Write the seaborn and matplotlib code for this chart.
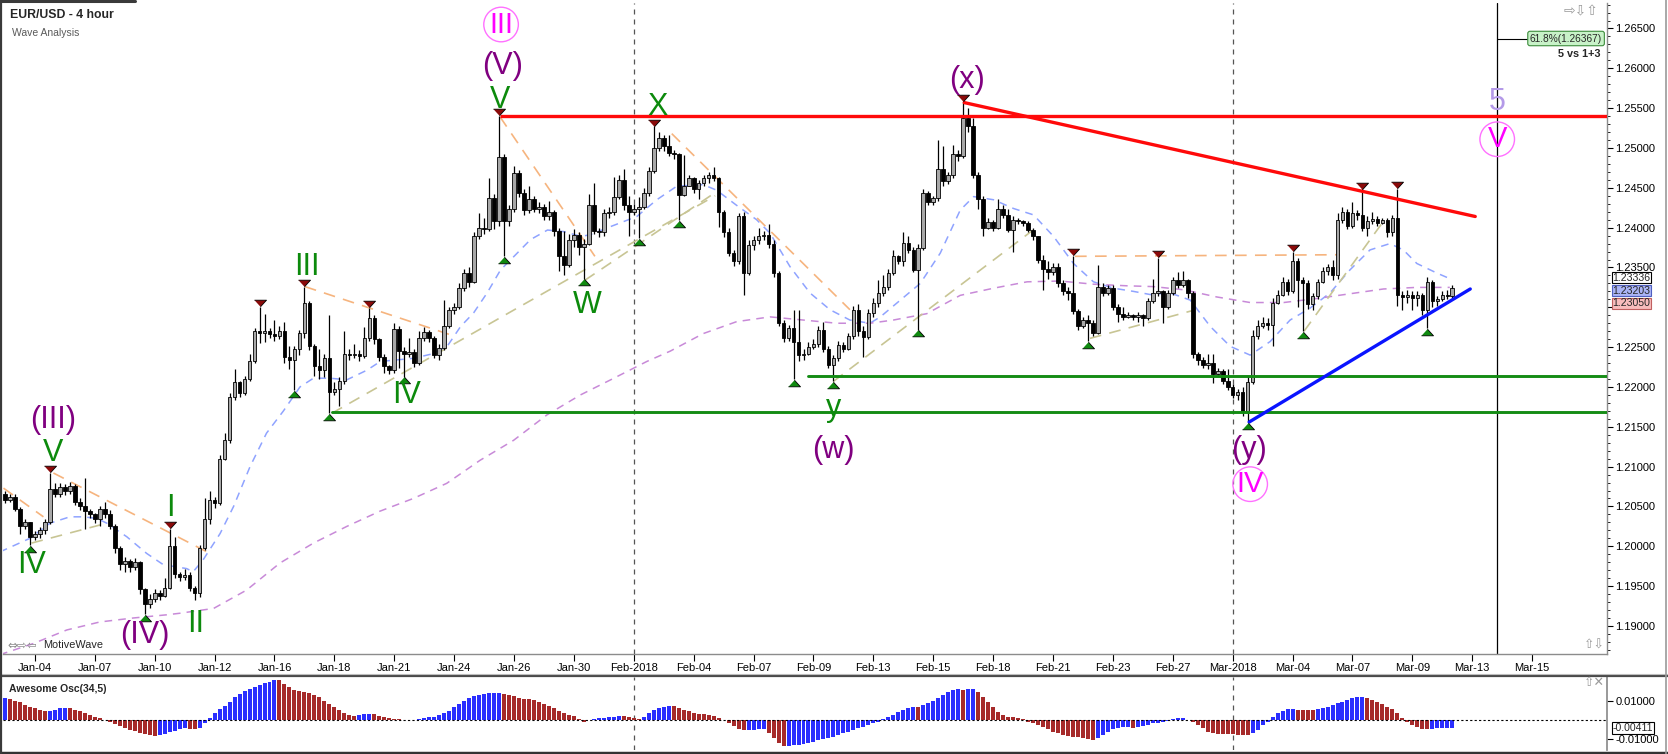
import numpy as np
import pandas as pd
import matplotlib
matplotlib.use("Agg")
import matplotlib.pyplot as plt
from matplotlib.ticker import MultipleLocator
import seaborn as sns

# ---------------- data ----------------
first_open = 1.2066
closes = [
    1.2058, 1.2062, 1.2047, 1.2026, 1.2030, 1.2012, 1.2015, 1.2020, 1.2030, 1.2072,
    1.2066, 1.2074, 1.2070, 1.2076, 1.2056, 1.2050, 1.2044, 1.2040, 1.2034, 1.2047,
    1.2040, 1.2026, 1.1998, 1.1978, 1.1982, 1.1974, 1.1980, 1.1946, 1.1928, 1.1934,
    1.1942, 1.1938, 1.1948, 1.2000, 1.1965, 1.1962, 1.1964, 1.1948, 1.1941, 1.1998,
    1.2034, 1.2058, 1.2054, 1.2110, 1.2133, 1.2188, 1.2206, 1.2192, 1.2210, 1.2232,
    1.2270, 1.2268, 1.2270, 1.2267, 1.2264, 1.2270, 1.2238, 1.2234, 1.2248, 1.2268,
    1.2305, 1.2251, 1.2226, 1.2221, 1.2236, 1.2194, 1.2198, 1.2208, 1.2241, 1.2240,
    1.2242, 1.2239, 1.2262, 1.2286, 1.2260, 1.2238, 1.2226, 1.2221, 1.2273, 1.2245,
    1.2242, 1.2244, 1.2230, 1.2261, 1.2269, 1.2262, 1.2240, 1.2249, 1.2277, 1.2296,
    1.2300, 1.2324, 1.2343, 1.2332, 1.2390, 1.2400, 1.2398, 1.2437, 1.2408, 1.2489,
    1.2408, 1.2424, 1.2468, 1.2443, 1.2422, 1.2436, 1.2424, 1.2426, 1.2414, 1.2420,
    1.2396, 1.2364, 1.2353, 1.2385, 1.2391, 1.2376, 1.2380, 1.2428, 1.2396, 1.2394,
    1.2418, 1.2420, 1.2439, 1.2460, 1.2428, 1.2420, 1.2424, 1.2426, 1.2444, 1.2471,
    1.2500, 1.2512, 1.2502, 1.2494, 1.2492, 1.2441, 1.2452, 1.2462, 1.2448, 1.2456,
    1.2462, 1.2466, 1.2462, 1.2420, 1.2395, 1.2368, 1.2358, 1.2415, 1.2343, 1.2378,
    1.2384, 1.2390, 1.2391, 1.2380, 1.2343, 1.2280, 1.2262, 1.2274, 1.2257, 1.2240,
    1.2242, 1.2250, 1.2254, 1.2272, 1.2248, 1.2228, 1.2236, 1.2253, 1.2248, 1.2264,
    1.2296, 1.2270, 1.2263, 1.2293, 1.2306, 1.2318, 1.2326, 1.2343, 1.2364, 1.2358,
    1.2381, 1.2372, 1.2347, 1.2374, 1.2444, 1.2432, 1.2437, 1.2474, 1.2458, 1.2466,
    1.2493, 1.2490, 1.2538, 1.2528, 1.2466, 1.2436, 1.2400, 1.2407, 1.2400, 1.2424,
    1.2416, 1.2397, 1.2410, 1.2408, 1.2406, 1.2397, 1.2389, 1.2360, 1.2348, 1.2344,
    1.2351, 1.2330, 1.2320, 1.2318, 1.2295, 1.2276, 1.2284, 1.2280, 1.2268, 1.2326,
    1.2318, 1.2324, 1.2300, 1.2292, 1.2288, 1.2290, 1.2288, 1.2290, 1.2286, 1.2308,
    1.2318, 1.2320, 1.2301, 1.2318, 1.2334, 1.2328, 1.2334, 1.2318, 1.2241, 1.2234,
    1.2228, 1.2230, 1.2216, 1.2220, 1.2208, 1.2200, 1.2190, 1.2194, 1.2168, 1.2206,
    1.2264, 1.2276, 1.2280, 1.2278, 1.2306, 1.2316, 1.2332, 1.2320, 1.2358, 1.2334,
    1.2330, 1.2304, 1.2314, 1.2332, 1.2345, 1.2350, 1.2340, 1.2410, 1.2420, 1.2402,
    1.2418, 1.2416, 1.2400, 1.2408, 1.2411, 1.2406, 1.2409, 1.2394, 1.2412, 1.2315,
    1.2313, 1.2316, 1.2312, 1.2316, 1.2296, 1.2332, 1.2308, 1.2310, 1.2316, 1.2314,
    1.2324]
highs = [
    1.2070, 1.2066, 1.2066, 1.2049, 1.2034, 1.2031, 1.2019, 1.2024, 1.2034, 1.2092,
    1.2080, 1.2079, 1.2078, 1.2081, 1.2078, 1.2060, 1.2086, 1.2047, 1.2042, 1.2051,
    1.2056, 1.2045, 1.2028, 1.2000, 1.1986, 1.1984, 1.1985, 1.1982, 1.1948, 1.1940,
    1.1946, 1.1945, 1.1960, 1.2022, 1.2012, 1.1968, 1.1972, 1.1968, 1.1950, 1.2002,
    1.2060, 1.2070, 1.2062, 1.2114, 1.2142, 1.2192, 1.2222, 1.2208, 1.2214, 1.2242,
    1.2274, 1.2301, 1.2292, 1.2274, 1.2284, 1.2276, 1.2282, 1.2251, 1.2252, 1.2272,
    1.2326, 1.2308, 1.2254, 1.2248, 1.2242, 1.2290, 1.2206, 1.2212, 1.2270, 1.2248,
    1.2254, 1.2246, 1.2275, 1.2299, 1.2290, 1.2262, 1.2242, 1.2228, 1.2280, 1.2276,
    1.2250, 1.2262, 1.2248, 1.2270, 1.2275, 1.2272, 1.2264, 1.2254, 1.2309, 1.2300,
    1.2306, 1.2330, 1.2348, 1.2350, 1.2395, 1.2418, 1.2412, 1.2462, 1.2442, 1.2540,
    1.2492, 1.2428, 1.2477, 1.2472, 1.2448, 1.2452, 1.2440, 1.2432, 1.2430, 1.2434,
    1.2422, 1.2400, 1.2396, 1.2392, 1.2398, 1.2394, 1.2386, 1.2442, 1.2456, 1.2400,
    1.2424, 1.2426, 1.2464, 1.2466, 1.2474, 1.2440, 1.2430, 1.2439, 1.2450, 1.2476,
    1.2527, 1.2520, 1.2516, 1.2516, 1.2498, 1.2494, 1.2491, 1.2466, 1.2464, 1.2460,
    1.2466, 1.2470, 1.2476, 1.2464, 1.2422, 1.2400, 1.2372, 1.2418, 1.2420, 1.2385,
    1.2390, 1.2400, 1.2396, 1.2404, 1.2384, 1.2346, 1.2284, 1.2278, 1.2297, 1.2297,
    1.2248, 1.2256, 1.2260, 1.2276, 1.2282, 1.2252, 1.2240, 1.2258, 1.2256, 1.2268,
    1.2302, 1.2304, 1.2276, 1.2298, 1.2312, 1.2334, 1.2340, 1.2348, 1.2372, 1.2366,
    1.2394, 1.2390, 1.2376, 1.2380, 1.2448, 1.2446, 1.2440, 1.2510, 1.2502, 1.2470,
    1.2504, 1.2498, 1.2558, 1.2550, 1.2538, 1.2470, 1.2440, 1.2412, 1.2410, 1.2436,
    1.2428, 1.2424, 1.2414, 1.2412, 1.2410, 1.2408, 1.2400, 1.2390, 1.2366, 1.2358,
    1.2356, 1.2356, 1.2334, 1.2326, 1.2365, 1.2298, 1.2288, 1.2290, 1.2284, 1.2353,
    1.2330, 1.2328, 1.2328, 1.2304, 1.2300, 1.2294, 1.2292, 1.2294, 1.2292, 1.2312,
    1.2336, 1.2362, 1.2322, 1.2322, 1.2338, 1.2344, 1.2346, 1.2336, 1.2320, 1.2244,
    1.2238, 1.2242, 1.2242, 1.2224, 1.2222, 1.2222, 1.2204, 1.2198, 1.2200, 1.2214,
    1.2272, 1.2284, 1.2288, 1.2286, 1.2312, 1.2322, 1.2338, 1.2336, 1.2370, 1.2362,
    1.2338, 1.2334, 1.2318, 1.2336, 1.2350, 1.2354, 1.2360, 1.2418, 1.2426, 1.2424,
    1.2432, 1.2422, 1.2448, 1.2414, 1.2420, 1.2414, 1.2412, 1.2412, 1.2416, 1.2449,
    1.2320, 1.2322, 1.2320, 1.2320, 1.2318, 1.2338, 1.2334, 1.2314, 1.2320, 1.2322,
    1.2328]
lows = [
    1.2054, 1.2055, 1.2044, 1.2016, 1.2022, 1.2002, 1.2008, 1.2010, 1.2016, 1.2028,
    1.2062, 1.2062, 1.2065, 1.2066, 1.2052, 1.2046, 1.2022, 1.2036, 1.2029, 1.2026,
    1.2036, 1.2022, 1.1992, 1.1970, 1.1968, 1.1968, 1.1970, 1.1940, 1.1915, 1.1922,
    1.1930, 1.1933, 1.1936, 1.1946, 1.1960, 1.1956, 1.1958, 1.1944, 1.1933, 1.1936,
    1.1995, 1.2028, 1.2048, 1.2052, 1.2108, 1.2130, 1.2184, 1.2188, 1.2190, 1.2208,
    1.2230, 1.2255, 1.2256, 1.2262, 1.2258, 1.2260, 1.2230, 1.2222, 1.2196, 1.2240,
    1.2262, 1.2246, 1.2214, 1.2210, 1.2212, 1.2167, 1.2190, 1.2176, 1.2204, 1.2234,
    1.2236, 1.2232, 1.2236, 1.2258, 1.2254, 1.2232, 1.2218, 1.2216, 1.2218, 1.2224,
    1.2213, 1.2238, 1.2225, 1.2228, 1.2258, 1.2256, 1.2236, 1.2234, 1.2247, 1.2274,
    1.2292, 1.2298, 1.2320, 1.2326, 1.2330, 1.2386, 1.2392, 1.2396, 1.2398, 1.2402,
    1.2364, 1.2402, 1.2420, 1.2438, 1.2416, 1.2418, 1.2420, 1.2418, 1.2410, 1.2410,
    1.2390, 1.2346, 1.2340, 1.2350, 1.2376, 1.2366, 1.2336, 1.2378, 1.2392, 1.2388,
    1.2390, 1.2412, 1.2416, 1.2436, 1.2422, 1.2390, 1.2416, 1.2387, 1.2424, 1.2440,
    1.2468, 1.2496, 1.2496, 1.2490, 1.2486, 1.2409, 1.2440, 1.2452, 1.2444, 1.2436,
    1.2452, 1.2456, 1.2458, 1.2401, 1.2388, 1.2364, 1.2352, 1.2354, 1.2316, 1.2340,
    1.2372, 1.2380, 1.2384, 1.2374, 1.2338, 1.2276, 1.2256, 1.2258, 1.2210, 1.2232,
    1.2234, 1.2240, 1.2248, 1.2250, 1.2244, 1.2224, 1.2207, 1.2232, 1.2244, 1.2246,
    1.2260, 1.2264, 1.2238, 1.2260, 1.2288, 1.2300, 1.2314, 1.2322, 1.2340, 1.2354,
    1.2352, 1.2368, 1.2344, 1.2272, 1.2372, 1.2428, 1.2428, 1.2434, 1.2452, 1.2455,
    1.2462, 1.2484, 1.2488, 1.2520, 1.2462, 1.2424, 1.2390, 1.2398, 1.2396, 1.2398,
    1.2412, 1.2394, 1.2370, 1.2404, 1.2402, 1.2394, 1.2384, 1.2356, 1.2322, 1.2336,
    1.2340, 1.2326, 1.2316, 1.2309, 1.2292, 1.2272, 1.2274, 1.2258, 1.2264, 1.2266,
    1.2314, 1.2316, 1.2296, 1.2282, 1.2284, 1.2286, 1.2284, 1.2282, 1.2276, 1.2284,
    1.2306, 1.2314, 1.2280, 1.2298, 1.2316, 1.2324, 1.2326, 1.2312, 1.2236, 1.2228,
    1.2224, 1.2222, 1.2205, 1.2214, 1.2204, 1.2196, 1.2186, 1.2184, 1.2164, 1.2156,
    1.2204, 1.2260, 1.2274, 1.2272, 1.2252, 1.2304, 1.2314, 1.2316, 1.2318, 1.2300,
    1.2270, 1.2298, 1.2296, 1.2310, 1.2330, 1.2340, 1.2334, 1.2336, 1.2406, 1.2398,
    1.2400, 1.2410, 1.2396, 1.2390, 1.2404, 1.2402, 1.2404, 1.2388, 1.2390, 1.2302,
    1.2296, 1.2306, 1.2296, 1.2302, 1.2290, 1.2274, 1.2300, 1.2302, 1.2308, 1.2310,
    1.2312]
# Awesome oscillator, in thousandths
ao_milli = [
    11.2, 10.7, 10.0, 9.2, 8.0, 6.9, 6.0, 5.2, 4.5, 4.8,
    5.4, 6.0, 6.4, 6.0, 5.4, 4.6, 3.8, 2.8, 1.6, 0.8,
    0.0, -0.9, -2.0, -3.0, -4.0, -5.0, -5.8, -6.6, -7.2, -7.7,
    -8.3, -7.8, -7.0, -6.2, -5.5, -4.8, -4.2, -4.5, -4.8, -3.9,
    -1.5, 1.2, 3.5, 5.5, 7.5, 9.5, 11.8, 13.5, 15.0, 16.2,
    17.2, 18.1, 19.0, 19.8, 20.7, 20.5, 18.5, 16.9, 15.8, 15.0,
    14.5, 13.8, 13.0, 11.8, 10.0, 8.2, 6.5, 5.0, 3.8, 2.8,
    2.2, 2.5, 3.0, 3.2, 3.0, 2.2, 1.6, 0.9, 0.5, 0.3,
    0.2, 0.1, 0.0, 0.3, 0.8, 1.4, 1.8, 2.6, 3.6, 4.8,
    6.5, 8.2, 9.8, 11.2, 12.3, 13.0, 13.5, 13.8, 14.0, 14.1,
    13.6, 12.9, 12.2, 11.5, 11.0, 10.7, 10.4, 9.5, 8.4, 7.2,
    6.0, 4.9, 3.8, 2.8, 2.0, 0.6, -0.9, 0.0, 0.5, 0.9,
    1.2, 1.5, 1.8, 2.1, 1.9, 1.7, 1.2, 0.4, 1.4, 3.5,
    5.2, 6.0, 6.9, 7.3, 7.0, 6.4, 5.2, 4.5, 3.8, 3.3,
    2.9, 2.5, 2.0, 1.2, 0.0, -1.7, -3.1, -4.6, -5.2, -5.1,
    -5.0, -4.9, -4.8, -6.9, -9.5, -12.1, -13.6, -13.5, -13.2, -12.8,
    -12.3, -11.8, -11.2, -10.6, -10.0, -9.5, -8.6, -7.8, -6.9, -6.0,
    -5.0, -4.2, -3.4, -2.6, -1.7, -0.9, 0.3, 1.4, 2.8, 4.3,
    5.2, 6.0, 6.9, 6.6, 7.8, 8.6, 10.0, 11.6, 13.0, 14.5,
    15.5, 15.9, 15.8, 16.0, 16.1, 14.7, 12.1, 9.5, 6.9, 4.3,
    2.6, 1.7, 1.4, 0.9, 0.3, -0.9, -1.7, -2.6, -3.5, -4.8,
    -6.0, -6.9, -7.8, -8.3, -8.6, -9.0, -9.5, -10.0, -10.4, -9.5,
    -7.8, -6.0, -4.8, -4.3, -3.8, -3.5, -4.3, -3.5, -3.1, -2.6,
    -1.7, -1.4, -0.9, -0.3, 0.3, 0.9, 1.0, 0.0, -0.9, -2.6,
    -4.3, -6.0, -6.9, -7.3, -7.35, -7.4, -7.5, -7.6, -7.8, -7.9,
    -6.9, -5.2, -2.6, -0.9, 1.7, 3.5, 4.8, 5.5, 5.6, 5.3,
    5.2, 5.1, 5.0, 5.5, 6.0, 6.9, 7.8, 8.6, 9.5, 10.4,
    11.2, 11.7, 11.8, 11.4, 10.4, 9.5, 8.3, 6.9, 5.5, 3.5,
    0.9, -1.0, -2.6, -3.8, -4.6, -4.8, -4.6, -4.4, -4.3, -4.2,
    -4.1]

date_labels = ["Jan-04", "Jan-07", "Jan-10", "Jan-12", "Jan-16", "Jan-18", "Jan-21",
               "Jan-24", "Jan-26", "Jan-30", "Feb-2018", "Feb-04", "Feb-07", "Feb-09",
               "Feb-13", "Feb-15", "Feb-18", "Feb-21", "Feb-23", "Feb-27", "Mar-2018",
               "Mar-04", "Mar-07", "Mar-09", "Mar-13", "Mar-15"]
month_start_bars = [126, 246]
price_ticks = [1.190, 1.195, 1.200, 1.205, 1.210, 1.215, 1.220, 1.225, 1.230, 1.235,
               1.240, 1.245, 1.250, 1.255, 1.260, 1.265]
# the 1.23000 label sits under the price tags in the reference
price_tick_labels = ["1.19000", "1.19500", "1.20000", "1.20500", "1.21000", "1.21500",
                     "1.22000", "1.22500", "", "1.23500", "1.24000", "1.24500",
                     "1.25000", "1.25500", "1.26000", "1.26500"]

blue_ma_x = [-1, 5, 9, 13, 15.7, 18.4, 20.4, 24.4, 28.4, 31.7, 36.4, 37.7, 39.7, 43.1, 45.8,
             49.1, 52.4, 55.8, 59.1, 61.8, 65.1, 68.5, 72.5, 75.2, 78.5, 81.9, 85.9, 88.6,
             91.3, 93.9, 96.6, 99.3, 102, 105.3, 108.7, 112, 115.4, 117.2, 121.2, 126.6,
             130.6, 134.6, 139.9, 142.6, 146.6, 150.6, 153.3, 157.3, 161.3, 165.3, 169.3,
             173.3, 175.4, 179.4, 183.4, 187.4, 191.4, 194.1, 198.1, 202.1, 206.1, 210.1,
             214.1, 218.1, 222.1, 226.1, 229.5, 233.5, 237.5, 241.5, 245.5, 249.5, 253.5,
             257.5, 261.5, 265.5, 269.5, 273.5, 277.5, 280.2, 282.9, 286.9, 289.5]
blue_ma_y = [1.1993, 1.2010, 1.2029, 1.2037, 1.2037, 1.2035, 1.2029, 1.2012, 1.1991, 1.1977,
             1.1972, 1.1968, 1.1983, 1.2016, 1.2050, 1.2100, 1.2142, 1.2170, 1.2200, 1.2211,
             1.2211, 1.2209, 1.2221, 1.2232, 1.2234, 1.2236, 1.2242, 1.2251, 1.2276, 1.2293,
             1.2318, 1.2347, 1.2364, 1.2385, 1.2397, 1.2395, 1.2389, 1.2391, 1.2401, 1.2414,
             1.2435, 1.2452, 1.2454, 1.2447, 1.2428, 1.2410, 1.2393, 1.2351, 1.2318, 1.2297,
             1.2284, 1.2280, 1.2288, 1.2309, 1.2330, 1.2368, 1.2422, 1.2439, 1.2435, 1.2424,
             1.2416, 1.2389, 1.2355, 1.2332, 1.2324, 1.2320, 1.2316, 1.2318, 1.2309, 1.2276,
             1.2251, 1.2240, 1.2257, 1.2284, 1.2299, 1.2318, 1.2347, 1.2372, 1.2380, 1.2372,
             1.2355, 1.2343, 1.2336]
purple_ma_x = [-1, 5.7, 12.4, 19, 25.7, 32.4, 35.1, 41.8, 48.4, 55.1, 61.8, 68.5, 75.1,
               81.8, 88.5, 95.2, 101.9, 108.6, 115.3, 122, 128.6, 133.3, 139.9, 146.6,
               153.3, 160, 166.7, 173.3, 178, 184.7, 191.4, 198.1, 204.8, 211.4, 218.1,
               224.8, 230.1, 236.2, 242.8, 249.5, 256.2, 262.8, 269.5, 276.2, 282.9, 289.5]
purple_ma_y = [1.1864, 1.1878, 1.1895, 1.1905, 1.1910, 1.1914, 1.1916, 1.1922, 1.1945,
               1.1979, 1.2004, 1.2025, 1.2044, 1.2060, 1.2079, 1.2108, 1.2133, 1.2165,
               1.2190, 1.2211, 1.2232, 1.2245, 1.2267, 1.2282, 1.2288, 1.2284, 1.2280,
               1.2280, 1.2284, 1.2292, 1.2315, 1.2324, 1.2332, 1.2333, 1.2329, 1.2327,
               1.2326, 1.2322, 1.2313, 1.2306, 1.2306, 1.2311, 1.2317, 1.2323, 1.2325,
               1.2325]

swing_high_x = [9, 33, 51, 60, 73, 99, 130, 192, 214, 231, 258, 272, 279]
swing_high_y = [1.2092, 1.2022, 1.2301, 1.2326, 1.2299, 1.2540, 1.2527, 1.2558, 1.2365,
                1.2362, 1.2370, 1.2448, 1.2449]
swing_low_x = [5, 28, 58, 65, 80, 100, 116, 127, 135, 158, 166, 183, 217, 249, 260, 285]
swing_low_y = [1.2002, 1.1915, 1.2196, 1.2167, 1.2213, 1.2364, 1.2336, 1.2387, 1.2409,
               1.2210, 1.2207, 1.2272, 1.2258, 1.2156, 1.2270, 1.2274]

green_text = ["IV", "V", "I", "II", "III", "IV", "V", "W", "X", "y"]
green_x = [5.4, 9.6, 33.2, 38.1, 60.5, 80.5, 99.2, 116.7, 130.7, 166.0]
green_y = [1.1977, 1.2117, 1.2048, 1.1903, 1.2351, 1.2190, 1.2560, 1.2303, 1.2552, 1.2173]
purple_text = ["(III)", "(IV)", "(V)", "(x)", "(w)", "(y)"]
purple_x = [9.7, 28.1, 99.6, 192.7, 166.0, 249.3]
purple_y = [1.2159, 1.1889, 1.2603, 1.2585, 1.2121, 1.2121]
circled_text = ["III", "IV", "V"]
circled_x = [99.4, 249.5, 299.0]
circled_y = [1.2655, 1.2078, 1.2511]
target_text, target_x, target_y = "5", 299.0, 1.2558
target_level = 1.26367

red_flat = (99.2, 1.2540)
red_fall_x, red_fall_y = [192.2, 294.6], [1.2557, 1.2414]
green_upper = (161.0, 1.2214)
green_lower = (65.5, 1.2168)
blue_rise_x, blue_rise_y = [249.3, 293.6], [1.2156, 1.2323]
orange_segments = [((-0.3, 1.2073), (7.7, 1.2037)), ((9.7, 1.2092), (41.1, 1.1991)),
                   ((60.1, 1.2326), (89.5, 1.2265)), ((99.2, 1.2539), (118.2, 1.2364)),
                   ((133.6, 1.2518), (169.3, 1.2297)), ((214.4, 1.2364), (267.5, 1.2366))]
khaki_segments = [((5.3, 1.2004), (20.4, 1.2029)), ((65.5, 1.2167), (142.3, 1.2440)),
                  ((116.2, 1.2334), (142.3, 1.2444)), ((166.0, 1.2207), (206.0, 1.2397)),
                  ((217.4, 1.2261), (238.0, 1.2296)), ((260.3, 1.2270), (276.2, 1.2408))]
marker_bar = 299.0
# axis value tags: shown value, colours (stacked so they do not collide)
price_tags = ["1.23336", "1.23203", "1.23050"]
price_tag_fill = ["white", "#aab4f6", "#f7bcbc"]
price_tag_edge = ["black", "#4f5fc0", "#c06060"]
price_tag_at = [1.23374, 1.23211, 1.23048]
ao_last = -0.00411

# ---------------- style ----------------
sns.set_theme(style="white")
plt.rcParams["font.family"] = ["Liberation Sans", "DejaVu Sans"]

W, H = 1668, 754
fig = plt.figure(figsize=(W / 100, H / 100), dpi=100)
fig.patch.set_facecolor("white")


def fx(p):
    return p / W


def fy(p):
    return 1 - p / H


LEFT, RIGHT = 3, 1607
ax = fig.add_axes([fx(LEFT), fy(654), fx(RIGHT) - fx(LEFT), fy(3) - fy(654)])
ax2 = fig.add_axes([fx(LEFT), fy(750), fx(RIGHT) - fx(LEFT), fy(677) - fy(750)])
XMIN, XMAX = -0.4, 321.0
for a in (ax, ax2):
    a.set_facecolor("white")

# ---------------- candles ----------------
c = np.array(closes)
n = len(c)
idx = np.arange(n)
o = np.concatenate([[first_open], c[:-1]])
hi = np.maximum(np.array(highs[:n]), np.maximum(o, c))
lo = np.minimum(np.array(lows[:n]), np.minimum(o, c))
up = c >= o
ax.vlines(idx, lo, hi, color="black", lw=0.9, zorder=2)
bot = np.minimum(o, c)
hgt = np.maximum(np.abs(c - o), 0.00004)
ax.bar(idx[up], hgt[up], bottom=bot[up], width=0.72, color="#a8a8a8",
       edgecolor="black", linewidth=0.6, zorder=3)
ax.bar(idx[~up], hgt[~up], bottom=bot[~up], width=0.72, color="black",
       edgecolor="black", linewidth=0.6, zorder=3)

# moving averages
sns.lineplot(x=blue_ma_x, y=blue_ma_y, ax=ax, color="#8fa3ff", lw=1.1,
             linestyle=(0, (5, 4)), zorder=1.5)
sns.lineplot(x=purple_ma_x, y=purple_ma_y, ax=ax, color="#c88ad8", lw=1.1,
             linestyle=(0, (5, 4)), zorder=1.5)

# wave guide lines
for (x0, y0), (x1, y1) in orange_segments:
    ax.plot([x0, x1], [y0, y1], color="#f6b47e", lw=1.2, ls=(0, (7, 5)), zorder=1.8)
for (x0, y0), (x1, y1) in khaki_segments:
    ax.plot([x0, x1], [y0, y1], color="#c8c594", lw=1.2, ls=(0, (7, 5)), zorder=1.8)

# trend lines
ax.plot([red_flat[0], XMAX], [red_flat[1]] * 2, color="#ff0a0a", lw=2.4, zorder=4,
        solid_capstyle="butt")
ax.plot(red_fall_x, red_fall_y, color="#ff0a0a", lw=2.4, zorder=4)
ax.plot([green_upper[0], XMAX], [green_upper[1]] * 2, color="#148c14", lw=2.1, zorder=4)
ax.plot([green_lower[0], XMAX], [green_lower[1]] * 2, color="#148c14", lw=2.1, zorder=4)
ax.plot(blue_rise_x, blue_rise_y, color="#0a14ff", lw=2.4, zorder=4)

# month separators and time marker
for a in (ax, ax2):
    for m in month_start_bars:
        a.axvline(m, color="#555555", lw=0.9, ls=(0, (4, 4)), zorder=1)
ax.axvline(marker_bar, color="black", lw=0.9, zorder=2)
ax.plot([marker_bar, marker_bar + 6.3], [target_level] * 2, color="black", lw=0.8, zorder=2)

# swing markers
off = 0.00048
down_tri = [(-1, 0.55), (1, 0.55), (0, -0.55)]
up_tri = [(-1, -0.55), (1, -0.55), (0, 0.55)]
ax.scatter(swing_high_x, np.array(swing_high_y) + off, marker=down_tri, s=75,
           color="#8a0a0a", edgecolors="black", linewidths=0.6, zorder=5)
ax.scatter(swing_low_x, np.array(swing_low_y) - off, marker=up_tri, s=75,
           color="#108a10", edgecolors="black", linewidths=0.6, zorder=5)

# wave labels
for t, x, y in zip(green_text, green_x, green_y):
    ax.text(x, y, t, color="#0c8a0c", fontsize=22, ha="center", va="center", zorder=6)
for t, x, y in zip(purple_text, purple_x, purple_y):
    ax.text(x, y, t, color="#800080", fontsize=22, ha="center", va="center", zorder=6)
ax.scatter(circled_x, circled_y, s=620, facecolors="none", edgecolors="#ff70ff",
           linewidths=1.0, zorder=6)
for t, x, y in zip(circled_text, circled_x, circled_y):
    ax.text(x, y, t, color="#ff00ff", fontsize=21, ha="center", va="center", zorder=7)
ax.text(target_x, target_y, target_text, color="#b49ae8", fontsize=22, ha="center",
        va="center", zorder=6)

# axes formatting (main)
ax.set_xlim(XMIN, XMAX)
ax.set_ylim(1.18648, 1.2682)
ax.set_xlabel("")
ax.set_ylabel("")
ax.yaxis.tick_right()
ax.set_yticks(price_ticks)
ax.set_yticklabels(price_tick_labels)
ax.yaxis.set_minor_locator(MultipleLocator(0.001))
ax.tick_params(axis="y", which="both", right=True, left=False, labelright=True,
               labelleft=False, direction="out", colors="black")
ax.tick_params(axis="y", which="major", length=4, width=0.8, labelsize=8, pad=2)
ax.tick_params(axis="y", which="minor", length=2, width=0.6)
tick_pos = 6 + 12 * np.arange(len(date_labels))
ax.set_xticks(tick_pos)
ax.set_xticklabels(date_labels)
ax.tick_params(axis="x", bottom=True, direction="out", length=5, width=0.8,
               labelsize=8, pad=1.5, colors="black")
for s in ("top", "left"):
    ax.spines[s].set_visible(False)
for s in ("bottom", "right"):
    ax.spines[s].set_color("#8c8c8c")
    ax.spines[s].set_linewidth(1.0)

for t, fc, ec, yv in zip(price_tags, price_tag_fill, price_tag_edge, price_tag_at):
    ax.text(1.0035, yv, t, transform=ax.get_yaxis_transform(), ha="left",
            va="center", fontsize=7.6, zorder=10,
            bbox=dict(boxstyle="square,pad=0.06", fc=fc, ec=ec, lw=0.8))

# ---------------- awesome oscillator ----------------
ao = np.array(ao_milli[:n]) / 1000.0
ao_dir = np.where(np.diff(ao, prepend=-1.0) >= 0, "up", "down")
df_ao = pd.DataFrame({"bar": idx, "ao": ao, "dir": ao_dir})
sns.barplot(data=df_ao, x="bar", y="ao", hue="dir",
            palette={"up": "#2a2eff", "down": "#a62a2a"}, native_scale=True,
            dodge=False, width=0.8, errorbar=None, legend=False, saturation=1,
            linewidth=0, ax=ax2)
ax2.axhline(0, color="black", lw=0.8, ls=(0, (2, 2)), zorder=4)
ax2.set_xlim(XMIN, XMAX)
ax2.set_ylim(-0.01554, 0.02228)
ax2.set_xlabel("")
ax2.set_ylabel("")
ax2.set_xticks([])
ax2.yaxis.tick_right()
ax2.set_yticks([0.01, -0.01])
ax2.set_yticklabels(["0.01000", "-0.01000"])
ax2.tick_params(axis="y", right=True, left=False, labelright=True, labelleft=False,
                direction="out", length=4, width=0.8, labelsize=8, pad=2, colors="black")
for s in ("top", "left", "bottom"):
    ax2.spines[s].set_visible(False)
ax2.spines["right"].set_color("#8c8c8c")
ax2.text(1.0035, ao_last, f"{ao_last:.5f}", transform=ax2.get_yaxis_transform(),
         ha="left", va="center", fontsize=7.6, zorder=10,
         bbox=dict(boxstyle="square,pad=0.08", fc="white", ec="black", lw=0.8))

# ---------------- frame, header and small texts ----------------
fig.add_artist(plt.Line2D([0, 1], [fy(676), fy(676)], color="#4a4a4a", lw=1.6,
                          transform=fig.transFigure))
fig.add_artist(plt.Line2D([0, 1], [fy(673.5), fy(673.5)], color="#bdbdbd", lw=0.8,
                          transform=fig.transFigure))
fig.add_artist(plt.Line2D([0, 1], [fy(752.5), fy(752.5)], color="#333333", lw=2.5,
                          transform=fig.transFigure))
fig.add_artist(plt.Line2D([fx(1), fx(1)], [0, 1], color="#3a3a3a", lw=1.6,
                          transform=fig.transFigure))
fig.add_artist(plt.Line2D([0, fx(135)], [fy(1), fy(1)], color="#3a3a3a", lw=2.2,
                          transform=fig.transFigure))
fig.add_artist(plt.Line2D([fx(1666), fx(1666)], [0, 1], color="#9a9a9a", lw=1.2,
                          transform=fig.transFigure))

fig.text(fx(10), fy(15.5), "EUR/USD - 4 hour", fontsize=8.8, fontweight="bold",
         va="center", ha="left")
fig.text(fx(12), fy(33.5), "Wave Analysis", fontsize=7.5, color="#5a5a5a",
         va="center", ha="left")
fig.text(fx(1530), fy(38.5), "61.8%(1.26367)", fontsize=7.3, va="center", ha="left",
         bbox=dict(boxstyle="round,pad=0.22", fc="#c8f2c8", ec="#3c8c3c", lw=0.8))
fig.text(fx(1601), fy(54), "5 vs 1+3", fontsize=7.8, fontweight="bold", va="center",
         ha="right")
fig.text(fx(1564), fy(11), "\u21e8\u21e9\u21e7", fontsize=10, color="#9a9a9a",
         va="center", ha="left", family=["DejaVu Sans"])
fig.text(fx(7), fy(645), "\u21d4\u21e8\u21e6", fontsize=8.5, color="#8a8a8a",
         va="center", ha="left", family=["DejaVu Sans"])
fig.text(fx(43), fy(645), "MotiveWave", fontsize=7.8, va="center", ha="left")
fig.text(fx(1584), fy(645), "\u21e7\u21e9", fontsize=9, color="#9a9a9a",
         va="center", ha="left", family=["DejaVu Sans"])
fig.text(fx(1584), fy(683), "\u21e7\u2715", fontsize=9, color="#9a9a9a",
         va="center", ha="left", family=["DejaVu Sans"])
fig.text(fx(9), fy(689), "Awesome Osc(34,5)", fontsize=7.5, fontweight="bold",
         va="center", ha="left")

fig.savefig("out.png", dpi=100)
